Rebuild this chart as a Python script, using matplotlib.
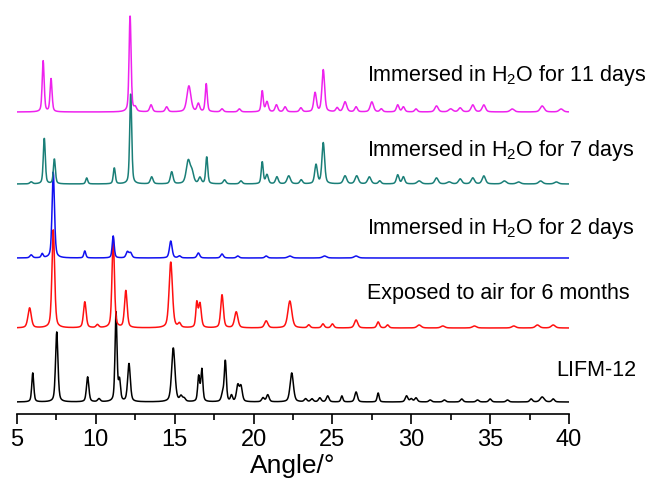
import numpy as np
import matplotlib
matplotlib.use("Agg")
import matplotlib.pyplot as plt
from matplotlib.ticker import MultipleLocator
from matplotlib.transforms import blended_transform_factory

plt.rcParams['font.family'] = ['Liberation Sans', 'DejaVu Sans']
plt.rcParams['mathtext.default'] = 'regular'

# ---- data (peak position [deg], height [a.u.], FWHM [deg]) ----
labels = ["LIFM-12", "Exposed to air for 6 months", "Immersed in H$_2$O for 2 days",
          "Immersed in H$_2$O for 7 days", "Immersed in H$_2$O for 11 days"]
colors = ["#000000", "#FF1010", "#1010F0", "#1A7F78", "#EE22EE"]
offsets = [12, 86, 156, 230, 302]

black_pos = [6.0, 7.52, 9.48, 10.2, 11.28, 11.5, 12.1, 14.91, 15.4, 15.6, 16.52, 16.72, 18.05, 18.21,
             18.6, 19.0, 19.2, 20.6, 20.9, 22.42, 23.3, 23.7, 24.2, 24.7, 25.6, 26.5, 27.9, 29.7, 30.0,
             30.3, 31.2, 32.1, 33.2, 34.2, 35.0, 36.1, 37.6, 38.3, 39.0]
black_hgt = [29, 70, 25, 3, 89, 20, 38, 54, 5, 3, 25, 32, 8, 40,
             6, 16, 15, 4, 7, 29, 3, 3, 4, 6, 6, 10, 9, 6, 3,
             4, 2, 2, 3, 2, 3, 2, 3, 5, 3]
black_fw = [0.15, 0.18, 0.18, 0.2, 0.15, 0.15, 0.2, 0.25, 0.2, 0.2, 0.15, 0.15, 0.2, 0.15,
            0.15, 0.2, 0.2, 0.2, 0.2, 0.25, 0.2, 0.2, 0.2, 0.2, 0.15, 0.2, 0.15, 0.2, 0.2,
            0.2, 0.2, 0.2, 0.2, 0.2, 0.2, 0.2, 0.2, 0.3, 0.2]

red_pos = [5.8, 7.3, 9.3, 10.1, 11.1, 11.9, 14.75, 15.3, 16.4, 16.6, 18.0, 18.9, 20.8, 22.3,
           23.5, 24.4, 25.0, 26.5, 27.9, 28.5, 30.5, 32.0, 34.0, 36.5, 38.0, 39.0]
red_hgt = [20, 98, 26, 3, 91, 37, 66, 4, 24, 24, 33, 16, 7, 27,
           3, 4, 4, 8, 6, 3, 3, 2, 2, 2, 3, 3]
red_fw = [0.25, 0.2, 0.2, 0.2, 0.18, 0.2, 0.25, 0.2, 0.15, 0.2, 0.2, 0.25, 0.25, 0.3,
          0.2, 0.2, 0.2, 0.25, 0.2, 0.2, 0.3, 0.3, 0.3, 0.3, 0.3, 0.3]

blue_pos = [5.9, 6.6, 7.3, 9.3, 11.1, 12.0, 12.2, 14.75, 15.3, 16.5, 18.0, 19.0, 20.8, 22.3, 24.5, 26.5]
blue_hgt = [3, 4, 86, 7, 22, 6, 5, 17, 2, 5, 4, 2, 2, 2, 2, 2]
blue_fw = [0.2, 0.15, 0.18, 0.15, 0.15, 0.2, 0.2, 0.2, 0.2, 0.2, 0.2, 0.2, 0.2, 0.3, 0.3, 0.3]

teal_pos = [5.9, 6.73, 7.37, 9.42, 11.17, 12.21, 13.54, 14.81, 15.86, 16.1, 16.6, 17.03, 18.16, 19.2,
            20.55, 20.85, 21.48, 22.23, 23.02, 23.96, 24.42, 25.8, 26.54, 27.34, 28.0, 29.14, 29.5,
            30.5, 31.6, 32.4, 33.1, 33.9, 34.6, 35.9, 36.8, 38.2, 39.2]
teal_hgt = [2, 46, 25, 6, 16, 91, 7, 12, 23, 10, 6, 27, 4, 3,
            22, 9, 7, 8, 4, 19, 41, 8, 8, 7, 3, 9, 7,
            3, 6, 2, 5, 6, 8, 3, 2, 3, 2]
teal_fw = [0.2, 0.15, 0.15, 0.15, 0.15, 0.15, 0.2, 0.2, 0.3, 0.25, 0.2, 0.15, 0.2, 0.2,
           0.15, 0.2, 0.2, 0.25, 0.2, 0.2, 0.2, 0.25, 0.25, 0.25, 0.2, 0.2, 0.2,
           0.3, 0.25, 0.3, 0.25, 0.25, 0.25, 0.3, 0.3, 0.3, 0.3]

mag_pos = [6.66, 7.16, 12.17, 12.5, 13.5, 14.49, 15.9, 16.5, 17.0, 18.0, 19.1, 20.55, 20.85, 21.45,
           22.0, 23.0, 23.9, 24.42, 25.3, 25.8, 26.5, 27.5, 28.1, 29.14, 29.5, 30.3, 31.6, 32.5,
           33.1, 33.9, 34.6, 36.4, 38.3, 39.5]
mag_hgt = [51, 33, 97, 4, 7, 5, 26, 8, 28, 3, 3, 21, 10, 7,
           5, 4, 19, 42, 4, 10, 5, 10, 3, 7, 5, 3, 6, 3,
           4, 7, 7, 3, 6, 3]
mag_fw = [0.15, 0.15, 0.15, 0.2, 0.2, 0.2, 0.3, 0.2, 0.15, 0.2, 0.2, 0.15, 0.2, 0.2,
          0.2, 0.2, 0.2, 0.2, 0.2, 0.25, 0.2, 0.25, 0.2, 0.2, 0.2, 0.2, 0.25, 0.3,
          0.25, 0.25, 0.25, 0.3, 0.3, 0.3]

series = [(black_pos, black_hgt, black_fw), (red_pos, red_hgt, red_fw), (blue_pos, blue_hgt, blue_fw),
          (teal_pos, teal_hgt, teal_fw), (mag_pos, mag_hgt, mag_fw)]

label_y = [43, 121, 185, 263, 338]

x_min, x_max = 5, 40
xticks = [5, 10, 15, 20, 25, 30, 35, 40]


def pattern(x, pos, hgt, fw, eta=0.45):
    y = np.zeros_like(x)
    for p, h, w in zip(pos, hgt, fw):
        s = w / 2.3548
        g = np.exp(-0.5 * ((x - p) / s) ** 2)
        l = 1.0 / (1.0 + ((x - p) / (w / 2)) ** 2)
        y += h * ((1 - eta) * g + eta * l)
    return y


fig = plt.figure(figsize=(6.51, 4.82), dpi=100)
ax = fig.add_axes([17 / 651, (482 - 414) / 482, 552 / 651, 404 / 482])

x = np.linspace(x_min, x_max, 1751)
for (pos, hgt, fw), off, col in zip(series, offsets, colors):
    ax.plot(x, off + pattern(x, pos, hgt, fw), color=col, lw=1.1, solid_joinstyle='round')

trans = blended_transform_factory(fig.transFigure, ax.transData)
for i, (lab, ly) in enumerate(zip(labels, label_y)):
    if i == 0:
        ax.text(636 / 651, ly, lab, transform=trans, ha='right', va='center', fontsize=15.5)
    else:
        ax.text(367 / 651, ly, lab, transform=trans, ha='left', va='center', fontsize=15.5)

ax.set_xlim(x_min, x_max)
ax.set_ylim(0, 404)
ax.set_xticks(xticks)
ax.xaxis.set_minor_locator(MultipleLocator(2.5))
ax.tick_params(axis='x', which='major', direction='out', length=7, width=1.2, labelsize=17, pad=4)
ax.tick_params(axis='x', which='minor', direction='out', length=4, width=1.2)
ax.set_yticks([])
for s in ['top', 'right', 'left']:
    ax.spines[s].set_visible(False)
ax.spines['bottom'].set_linewidth(1.2)
ax.set_xlabel('Angle/°', fontsize=19, labelpad=2)

fig.savefig('out.png', dpi=100)
